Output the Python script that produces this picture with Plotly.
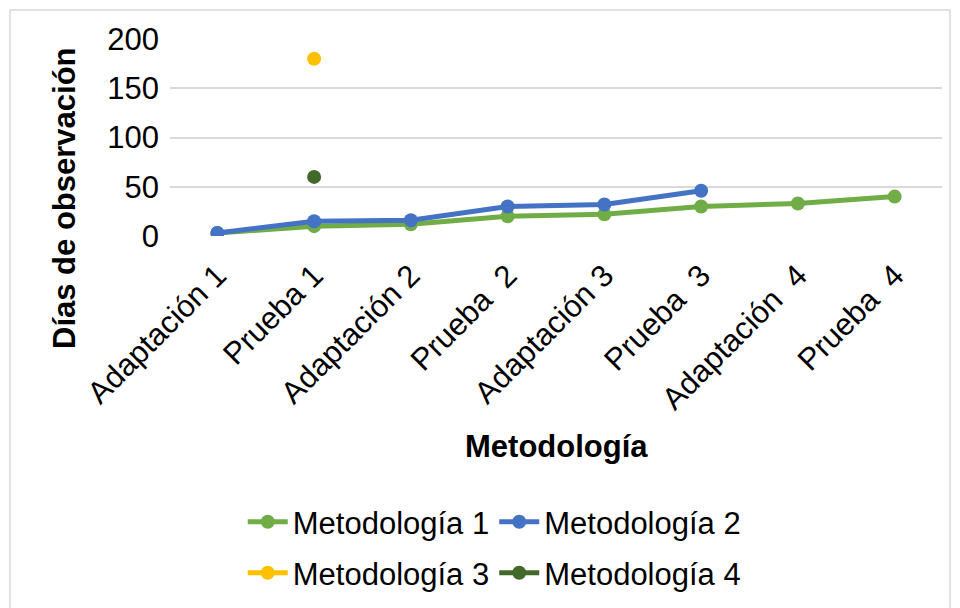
import plotly.graph_objects as go

categories = ["Adaptación 1", "Prueba 1", "Adaptación 2", "Prueba  2",
              "Adaptación 3", "Prueba  3", "Adaptación  4", "Prueba  4"]
met1 = [3, 10, 12, 20, 22, 30, 33, 40]
met2 = [3, 15, 16, 30, 32, 46, None, None]
met3 = [None, 180, None, None, None, None, None, None]
met4 = [None, 60, None, None, None, None, None, None]

FONT = "Liberation Sans, Arial, sans-serif"
FS = 31

fig = go.Figure()
series = [
    ("Metodología 1", met1, "#70AD47", "legend"),
    ("Metodología 2", met2, "#4472C4", "legend"),
    ("Metodología 3", met3, "#FFC000", "legend2"),
    ("Metodología 4", met4, "#43682B", "legend2"),
]
for name, vals, color, lg in series:
    fig.add_trace(go.Scatter(
        x=categories, y=vals, name=name, mode="lines+markers",
        line=dict(color=color, width=5),
        marker=dict(color=color, size=14),
        legend=lg, connectgaps=False,
    ))

fig.update_layout(
    width=960, height=608,
    margin=dict(l=162, r=26, t=31, b=380),
    paper_bgcolor="white", plot_bgcolor="white",
    font=dict(family=FONT, size=FS, color="black"),
    showlegend=True,
    legend=dict(orientation="h", x=0.42, xanchor="center", y=-1.452, yanchor="middle",
                font=dict(size=FS), bgcolor="rgba(0,0,0,0)", itemwidth=40),
    legend2=dict(orientation="h", x=0.42, xanchor="center", y=-1.711, yanchor="middle",
                 font=dict(size=FS), bgcolor="rgba(0,0,0,0)", itemwidth=40),
    xaxis=dict(
        type="category", tickangle=-45, showgrid=False, zeroline=False,
        showline=False, ticks="", tickfont=dict(size=FS), automargin=False,
        ticklabelstandoff=14,
    ),
    yaxis=dict(
        range=[0, 200], tickvals=[0, 50, 100, 150, 200], showgrid=True,
        gridcolor="#D9D9D9", gridwidth=1.5, zeroline=False, showline=False,
        ticks="", tickfont=dict(size=FS), ticklabelstandoff=10, automargin=False,
    ),
    annotations=[
        dict(text="<b>Metodología</b>", xref="paper", yref="paper",
             x=0.5, y=-1.071, xanchor="center", yanchor="middle",
             showarrow=False, font=dict(size=FS)),
        dict(text="<b>Días de observación</b>", xref="paper", yref="paper",
             x=-0.136, y=0.193, xanchor="center", yanchor="middle",
             textangle=-90, showarrow=False, font=dict(size=FS)),
    ],
    shapes=[dict(type="rect", xref="paper", yref="paper",
                 x0=-0.2073, x1=1.0104, y0=-1.92, y1=1.147,
                 line=dict(color="#D9D9D9", width=1.5), fillcolor="rgba(0,0,0,0)",
                 layer="below")],
)

fig.write_html("out.html")
